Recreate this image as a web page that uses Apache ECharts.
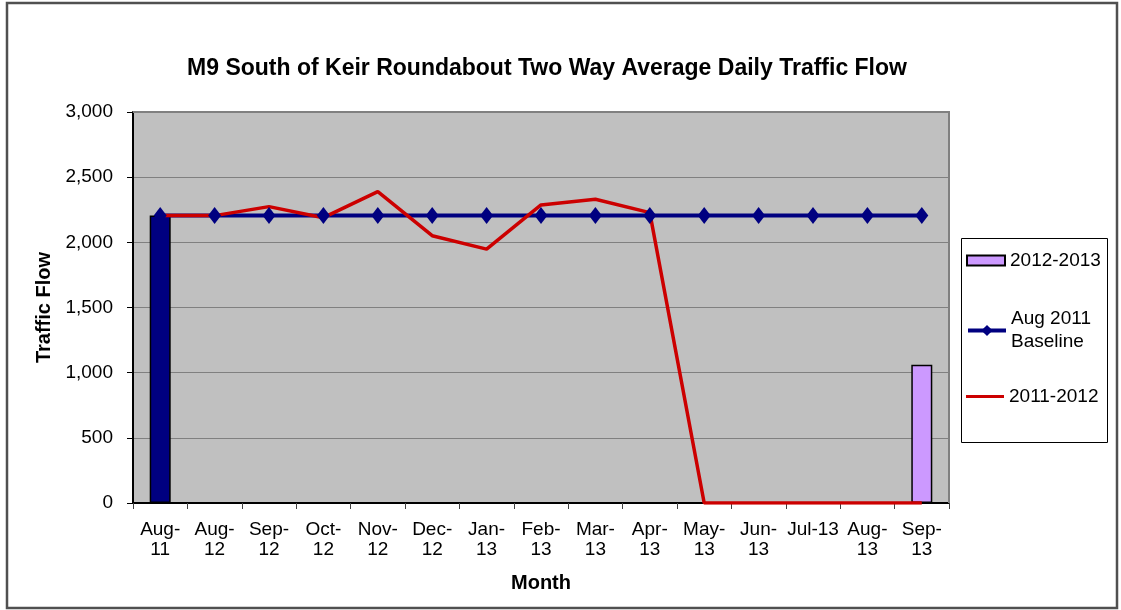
<!DOCTYPE html>
<html>
<head>
<meta charset="utf-8">
<script src="https://cdn.jsdelivr.net/npm/echarts@6/dist/echarts.min.js"></script>
<style>
html,body{margin:0;padding:0;background:#fff;}
#chart{width:1121px;height:610px;}
</style>
</head>
<body>
<div id="chart"></div>
<script>
var categories = ['Aug-11','Aug-12','Sep-12','Oct-12','Nov-12','Dec-12','Jan-13','Feb-13','Mar-13','Apr-13','May-13','Jun-13','Jul-13','Aug-13','Sep-13'];
var tickLabels = ['Aug-\n11','Aug-\n12','Sep-\n12','Oct-\n12','Nov-\n12','Dec-\n12','Jan-\n13','Feb-\n13','Mar-\n13','Apr-\n13','May-\n13','Jun-\n13','Jul-13','Aug-\n13','Sep-\n13'];
var bars20122013 = [2205, null, null, null, null, null, null, null, null, null, null, null, null, null, 1060];
var baseline = [2205, 2205, 2205, 2205, 2205, 2205, 2205, 2205, 2205, 2205, 2205, 2205, 2205, 2205, 2205];
var flow20112012 = [2205, 2205, 2274, 2189, 2389, 2051, 1948, 2287, 2331, 2228, 0, 0, 0, 0, 0];
var yTicks = [0, 500, 1000, 1500, 2000, 2500, 3000];

var FONT = '"Liberation Sans", Arial, sans-serif';
var chart = echarts.init(document.getElementById('chart'));

var barData = bars20122013.map(function (v, i) {
  if (v === null) return '-';
  if (i === 0) return { value: v, itemStyle: { color: '#000080' } };
  return v;
});

chart.setOption({
  animation: false,
  backgroundColor: '#fff',
  title: {
    text: 'M9 South of Keir Roundabout Two Way Average Daily Traffic Flow',
    left: 542, top: 52, textAlign: 'center',
    textStyle: { fontFamily: FONT, fontSize: 23, fontWeight: 'bold', color: '#000' }
  },
  graphic: [
    { type: 'rect', z: -10, shape: { x: 7, y: 3, width: 1110, height: 605 }, style: { fill: 'none', stroke: '#505050', lineWidth: 2.5 } },
    { type: 'rect', z: -5, shape: { x: 961.5, y: 238.5, width: 146, height: 204 }, style: { fill: '#fff', stroke: '#000', lineWidth: 1 } },
    { type: 'polyline', z: 5, shape: { points: [[133, 112], [949, 112], [949, 503]] }, style: { stroke: '#808080', lineWidth: 2, fill: 'none' } }
  ],
  legend: [
    { data: [{ name: '2012-2013', icon: 'rect' }], left: 966, top: 251, padding: 0, itemWidth: 38, itemHeight: 10, itemGap: 0,
      textStyle: { fontFamily: FONT, fontSize: 19, color: '#000' } },
    { data: ['Aug 2011 Baseline'], left: 966, top: 296, padding: 0, itemWidth: 38, itemHeight: 14, itemGap: 0,
      lineStyle: { width: 4 },
      formatter: function () { return 'Aug 2011\nBaseline'; },
      textStyle: { fontFamily: FONT, fontSize: 19, color: '#000', lineHeight: 23, padding: [23, 0, 0, 0] } },
    { data: [{ name: '2011-2012', icon: 'rect' }], left: 966, top: 387, padding: 0, itemWidth: 38, itemHeight: 3, itemGap: 0,
      textStyle: { fontFamily: FONT, fontSize: 19, color: '#000' } }
  ],
  grid: { left: 133, right: 172, top: 112, bottom: 107, show: true, backgroundColor: '#C0C0C0', borderWidth: 0 },
  xAxis: {
    type: 'category', data: categories, boundaryGap: true,
    name: 'Month', nameLocation: 'middle', nameGap: 70,
    nameTextStyle: { fontFamily: FONT, fontSize: 20, fontWeight: 'bold', color: '#000' },
    axisLine: { lineStyle: { color: '#000', width: 2 } },
    axisTick: { show: true, length: 6, lineStyle: { color: '#404040' } },
    axisLabel: {
      fontFamily: FONT, fontSize: 19, color: '#000', lineHeight: 20, margin: 17, interval: 0,
      formatter: function (v, i) { return tickLabels[i]; }
    },
    splitLine: { show: false }
  },
  yAxis: {
    type: 'value', min: yTicks[0], max: yTicks[yTicks.length - 1], interval: 500,
    name: 'Traffic Flow', nameLocation: 'middle', nameGap: 77, nameRotate: 90,
    nameTextStyle: { fontFamily: FONT, fontSize: 20, fontWeight: 'bold', color: '#000' },
    axisLine: { show: true, lineStyle: { color: '#000', width: 2 } },
    axisTick: { show: true, length: 6, lineStyle: { color: '#000' } },
    axisLabel: {
      fontFamily: FONT, fontSize: 19, color: '#000', margin: 20,
      formatter: function (v) { return v.toLocaleString('en-US'); }
    },
    splitLine: { show: true, lineStyle: { color: '#808080', width: 1 } }
  },
  series: [
    { name: '2012-2013', type: 'bar', data: barData, barWidth: 21,
      itemStyle: { color: '#CC99FF', borderColor: '#000', borderWidth: 1.5 } },
    { name: 'Aug 2011 Baseline', type: 'line', data: baseline,
      lineStyle: { color: '#000080', width: 4 }, itemStyle: { color: '#000080' },
      symbol: 'diamond', symbolSize: [13, 17], showSymbol: true },
    { name: '2011-2012', type: 'line', data: flow20112012,
      lineStyle: { color: '#CC0000', width: 3.5 }, itemStyle: { color: '#CC0000' },
      symbol: 'none' }
  ]
});
</script>
</body>
</html>
